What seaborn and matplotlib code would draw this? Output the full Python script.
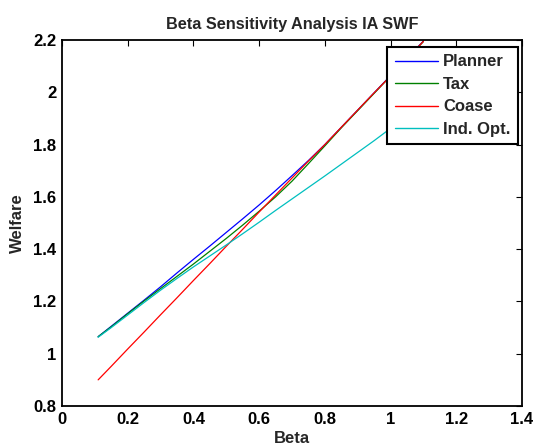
import matplotlib
matplotlib.use("Agg")
import matplotlib.pyplot as plt
import numpy as np
import pandas as pd
import seaborn as sns

# Welfare under each regime as beta varies
beta = [0.11, 0.15, 0.20, 0.25, 0.30, 0.35, 0.40, 0.45, 0.50, 0.55, 0.60,
        0.65, 0.70, 0.75, 0.80, 0.85, 0.90, 0.95, 1.00, 1.05, 1.10]
planner = [1.065, 1.105, 1.155, 1.205, 1.256, 1.309, 1.361, 1.412, 1.464, 1.516, 1.569,
           1.624, 1.681, 1.739, 1.800, 1.866, 1.932, 1.998, 2.064, 2.130, 2.196]
tax = [1.065, 1.103, 1.153, 1.202, 1.249, 1.296, 1.343, 1.392, 1.441, 1.492, 1.545,
       1.600, 1.660, 1.727, 1.795, 1.864, 1.930, 1.996, 2.062, 2.128, 2.194]
coase = [0.900, 0.952, 1.018, 1.083, 1.149, 1.214, 1.280, 1.345, 1.411, 1.476, 1.542,
         1.607, 1.672, 1.737, 1.800, 1.866, 1.932, 1.998, 2.062, 2.128, 2.195]
ind_opt = [1.063, 1.100, 1.148, 1.196, 1.243, 1.288, 1.332, 1.374, 1.416, 1.459, 1.503,
           1.548, 1.592, 1.636, 1.680, 1.725, 1.770, 1.815, 1.862, 1.908, 1.955]

series = {"Planner": planner, "Tax": tax, "Coase": coase, "Ind. Opt.": ind_opt}
colors = {"Planner": "#0000ff", "Tax": "#008000", "Coase": "#ff0000", "Ind. Opt.": "#00bfbf"}

df = pd.concat(
    [pd.DataFrame({"Beta": beta, "Welfare": vals, "Regime": name}) for name, vals in series.items()],
    ignore_index=True,
)

sns.set_style("white")
plt.rcParams["font.family"] = ["Liberation Sans", "DejaVu Sans"]
plt.rcParams["font.weight"] = "bold"

fig = plt.figure(figsize=(5.38, 4.48), dpi=100)
ax = fig.add_axes([62 / 538, 1 - 406 / 448, 460 / 538, 366 / 448])

sns.lineplot(data=df, x="Beta", y="Welfare", hue="Regime", palette=colors,
             hue_order=list(series.keys()), linewidth=0.9, ax=ax, legend=True)

ax.set_xlim(0, 1.4)
ax.set_ylim(0.8, 2.2)
ax.set_xticks(np.arange(0, 1.41, 0.2))
ax.set_yticks(np.arange(0.8, 2.21, 0.2))
ax.set_xticklabels(["0", "0.2", "0.4", "0.6", "0.8", "1", "1.2", "1.4"])
ax.set_yticklabels(["0.8", "1", "1.2", "1.4", "1.6", "1.8", "2", "2.2"])

ax.tick_params(direction="in", length=4, width=0.8, top=True, right=True,
               labelsize=12, pad=4, colors="black")
for lbl in ax.get_xticklabels() + ax.get_yticklabels():
    lbl.set_fontweight("bold")
for sp in ax.spines.values():
    sp.set_visible(True)
    sp.set_color("black")
    sp.set_linewidth(1.3)

ax.set_xlabel("Beta", fontsize=12, fontweight="bold", labelpad=3)
ax.set_ylabel("Welfare", fontsize=12, fontweight="bold", labelpad=6)
ax.set_title("Beta Sensitivity Analysis IA SWF", fontsize=11.7, fontweight="bold", pad=8)

leg = ax.legend(loc="upper right", bbox_to_anchor=(0.991, 0.981), borderaxespad=0,
                fancybox=False, framealpha=1, edgecolor="black",
                prop={"size": 12, "weight": "bold"}, handlelength=2.6,
                handletextpad=0.3, labelspacing=0.45, borderpad=0.45)
leg.get_frame().set_linewidth(1.5)
for h in leg.get_lines():
    h.set_linewidth(1.0)

fig.savefig("out.png", dpi=100)
